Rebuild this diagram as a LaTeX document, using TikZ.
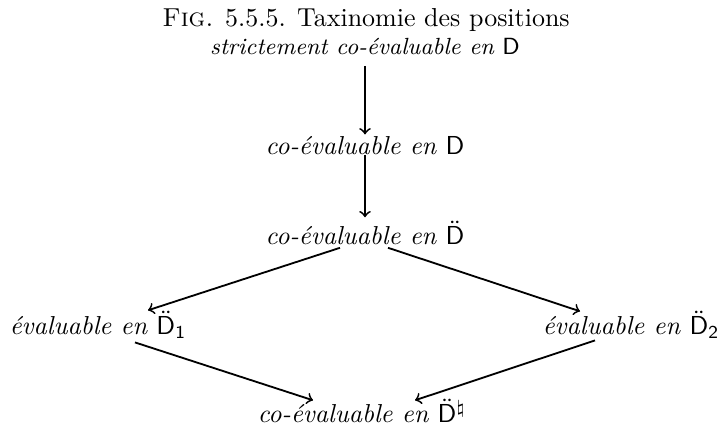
\documentclass[tikz,border=0pt]{standalone}
\usepackage{amsmath,amssymb}
\usepackage{tikz}
\usetikzlibrary{arrows,calc}

\tikzset{
  position/.style={anchor=base, inner sep=0pt},
  fleche/.style={->, line width=0.7pt}
}

\begin{document}
\begin{tikzpicture}[x=0.385pt, y=-0.385pt]
\useasboundingbox (0,0) rectangle (723,431);

% Title
\node[position] (titre) at (366,27) {\textsc{Fig.} 5.5.5. Taxinomie des positions};

% Positions
\node[position, font=\small] (strict) at (365,55) {\textit{strictement co-évaluable en} $\mathsf{D}$};
\node[position] (coD) at (365,155) {\textit{co-évaluable en} $\mathsf{D}$};
\node[position] (coDD) at (365,245) {\textit{co-évaluable en} $\ddot{\mathsf{D}}$};
\node[position] (evalA) at (98,335) {\textit{évaluable en} $\ddot{\mathsf{D}}_{\mathsf{1}}$};
\node[position] (evalB) at (631,335) {\textit{évaluable en} $\ddot{\mathsf{D}}_{\mathsf{2}}$};
\node[position] (coDn) at (362,423) {\textit{co-évaluable en} $\ddot{\mathsf{D}}^{\natural}$};

% Arrows
\draw[fleche] ($(strict.south)+(0,10)$) -- ($(coD.north)+(0,-2)$);
\draw[fleche] ($(coD.south)+(0,-1)$) -- ($(coDD.north)+(0,-3)$);
\draw[fleche] ($(coDD.south)+(-25,2)$) -- ($(evalA.north)+(50,0)$);
\draw[fleche] ($(coDD.south)+(23,2)$) -- ($(evalB.north)+(-51,1)$);
\draw[fleche] ($(evalA.south)+(37,3)$) -- ($(coDn.north)+(-49,2)$);
\draw[fleche] ($(evalB.south)+(-36,1)$) -- ($(coDn.north)+(53,2)$);

\end{tikzpicture}
\end{document}
